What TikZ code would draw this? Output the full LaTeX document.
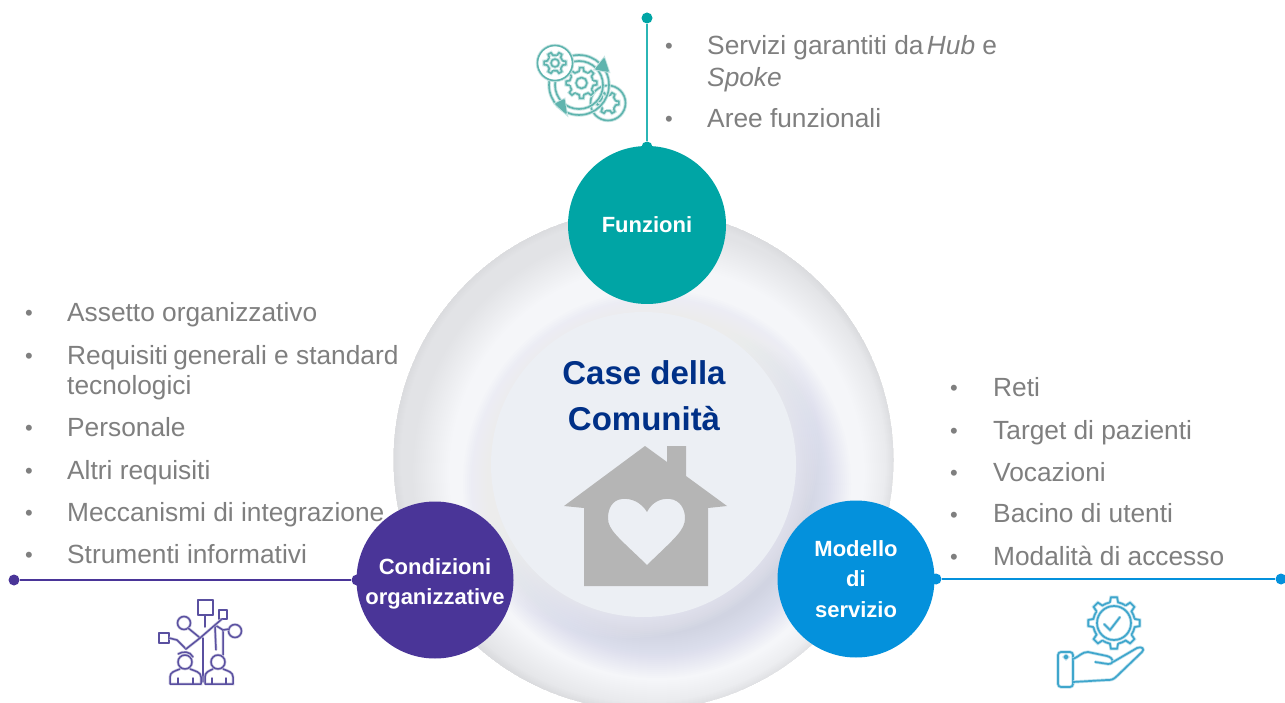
\documentclass[tikz,border=0pt]{standalone}
\usepackage{fontspec}
\setmainfont{Liberation Sans}
\definecolor{teal1}{HTML}{00A5A5}
\definecolor{teal2}{HTML}{2BB5B5}
\definecolor{teali}{HTML}{5FB4AE}
\definecolor{purp1}{HTML}{4A3598}
\definecolor{purpi}{HTML}{5A50A0}
\definecolor{blue1}{HTML}{0491DC}
\definecolor{bluei}{HTML}{3FA6CC}
\definecolor{txtgray}{HTML}{7F7F7F}
\definecolor{navy1}{HTML}{003087}
\definecolor{disc1}{HTML}{ECEFF4}
\definecolor{disc0}{HTML}{F5F6F9}
\definecolor{shad1}{HTML}{A9AECB}
\definecolor{house1}{HTML}{B5B5B5}
\tikzset{
  hub/.style={circle,draw=none,minimum size=#1,inner sep=0pt,align=center,text=white,
    font=\bfseries\fontsize{22}{30.5}\selectfont},
  listitem/.style={anchor=base west,inner sep=0pt,text=txtgray,font=\fontsize{26.3}{30}\selectfont},
  bulletitem/.style={anchor=base,inner sep=0pt,text=txtgray,font=\fontsize{22}{30}\selectfont},
  enddot/.style={circle,draw=none,minimum size=11pt,inner sep=0pt},
  title1/.style={anchor=base,inner sep=0pt,text=navy1,font=\bfseries\fontsize{33}{40}\selectfont},
  tealicon/.style={draw=teali,line width=1.6pt,line cap=round,line join=round,preaction={draw=teali!35,line width=3.4pt}},
  purpicon/.style={draw=purpi,line width=1.5pt,line cap=round,line join=round,preaction={draw=purpi!30,line width=2.8pt}},
  blueicon/.style={draw=bluei,line width=1.7pt,line cap=round,line join=round,preaction={draw=bluei!35,line width=3.2pt}}
}
% centre x, centre y, outer r, inner r, teeth, style
\newcommand{\gearicon}[6]{%
  \begin{scope}[shift={(#1,#2)}]
  \foreach \i in {1,...,#5}{%
    \pgfmathsetmacro\aa{360/#5*\i}%
    \pgfmathsetmacro\ww{90/#5}%
    \draw[#6] (\aa-\ww:#4) -- (\aa-0.6*\ww:#3) -- (\aa+0.6*\ww:#3) -- (\aa+\ww:#4)
       arc[start angle=\aa+\ww,end angle=\aa+360/#5-\ww,radius=#4];
  }%
  \end{scope}%
}
\begin{document}
\begin{tikzpicture}[x=1pt,y=-1pt]
\useasboundingbox (0,0) rectangle (1285,703);
\fill[white] (0,0) rectangle (1285,703);

% large disc
\begin{scope}
  \clip (0,0) rectangle (1285,703);
  \begin{scope}
    \clip (643.5,460) circle (250);
    \fill[disc0] (643.5,460) circle (250);
    % soft inner rim, heavier at top left
    \foreach \r in {244,242,...,208}{
      \fill[shad1,opacity=.012,even odd rule] (643.5,460) circle (400) (657,473) circle (\r);
    }
    \foreach \r in {249.5,248.5,...,242}{
      \fill[shad1,opacity=.005,even odd rule] (643.5,460) circle (400) (643.5,460) circle (\r);
    }
    % shadow of inner disc, lower right
    \foreach \r in {194,192,...,150}{
      \fill[shad1,opacity=.021] (657,484) circle (\r);
    }
    % white glow at top left of the inner disc
    \foreach \r in {188,186,...,150}{
      \fill[white,opacity=.05] (630,450) circle (\r);
    }
  \end{scope}
  \fill[disc1] (643.5,464.5) circle (152.5);
\end{scope}

% house
\fill[house1,even odd rule]
  (645,446) -- (667,462) -- (667,446) -- (686,446) -- (686,476) -- (727,506) -- (708,508)
  -- (708,586) -- (584,586) -- (584,508) -- (564,506) -- cycle
  (647,512) .. controls (641,502) and (631,498) .. (622,499)
  .. controls (612,500) and (608,509) .. (608,518)
  .. controls (608,530) and (618,537) .. (647,565)
  .. controls (676,537) and (685,530) .. (685,518)
  .. controls (685,509) and (680,500) .. (670,499)
  .. controls (661,498) and (652,502) .. (647,512) -- cycle;

% title
\node[title1] (t1) at (644,384) {Case della};
\node[title1] (t2) at (644,430) {Comunità};

% hubs
\node[hub=158pt,fill=teal1] (funz) at (647,225) {Funzioni};
\node[hub=157pt,fill=purp1] (cond) at (435,580) {\rule{0pt}{24pt}Condizioni\\[-1pt]organizzative};
\node[hub=157pt,fill=blue1] (mod)  at (856,579) {Modello\\di\\servizio};

% dots and connectors
\node[enddot,fill=teal1] (d1a) at (647,18) {};
\node[enddot,fill=teal1] (d1b) at (647,147) {};
\draw[teal2,line width=1.8pt] (d1a) -- (d1b);
\node[enddot,fill=purp1] (d2a) at (14,580) {};
\node[enddot,fill=purp1] (d2b) at (357,580) {};
\draw[purp1,line width=1.2pt] (d2a) -- (d2b);
\node[enddot,fill=blue1] (d3a) at (936,579) {};
\node[enddot,fill=blue1] (d3b) at (1281,579) {};
\draw[blue1,line width=1.2pt] (d3a) -- (d3b);

% top list
\node[bulletitem] (b11) at (669,54) {•};
\node[listitem] (i11) at (707,55) {Servizi garantiti da\hspace{-1pt}\,\textit{Hub} e};
\node[listitem] (i12) at (707,87) {\textit{Spoke}};
\node[bulletitem] (b12) at (669,127) {•};
\node[listitem] (i13) at (707,128) {Aree funzionali};

% left list
\node[bulletitem] (b21) at (29,320) {•};
\node[listitem] (i21) at (67,321) {Assetto organizzativo};
\node[bulletitem] (b22) at (29,363) {•};
\node[listitem] (i22) at (67,364) {Requisiti\hspace{-2pt} generali e standard};
\node[listitem] (i23) at (67,394) {tecnologici};
\node[bulletitem] (b24) at (29,435) {•};
\node[listitem] (i24) at (67,436) {Personale};
\node[bulletitem] (b25) at (29,478) {•};
\node[listitem] (i25) at (67,479) {Altri requisiti};
\node[bulletitem] (b26) at (29,520) {•};
\node[listitem] (i26) at (67,521) {Meccanismi di integrazione};
\node[bulletitem] (b27) at (29,562) {•};
\node[listitem] (i27) at (67,563) {Strumenti informativi};

% right list
\node[bulletitem] (b31) at (954,395) {•};
\node[listitem] (i31) at (993,396) {Reti};
\node[bulletitem] (b32) at (954,438) {•};
\node[listitem] (i32) at (993,439) {Target di pazienti};
\node[bulletitem] (b33) at (954,480) {•};
\node[listitem] (i33) at (993,481) {Vocazioni};
\node[bulletitem] (b34) at (954,522) {•};
\node[listitem] (i34) at (993,522) {Bacino di utenti};
\node[bulletitem] (b35) at (954,564) {•};
\node[listitem] (i35) at (993,565) {Modalità di accesso};

% teal gears icon
\draw[tealicon] (608,103) circle (17.5);
\gearicon{608}{103}{11}{8}{6}{tealicon}
\draw[tealicon] (579,85) circle (24);
\draw[tealicon] (579,85) circle (30);
\gearicon{581.5}{83}{15.5}{12}{8}{tealicon}
\draw[tealicon] (581.5,83) circle (5.5);
\draw[tealicon,fill=white] (555,63) circle (17.5);
\gearicon{555}{63}{11}{8}{6}{tealicon}
\draw[tealicon] (555,63) circle (4);
\draw[tealicon,fill=teali] (604,59) -- (608,71) -- (596,69) -- cycle;
\draw[tealicon,fill=teali] (564,100) -- (566,113) -- (556,104) -- cycle;

% purple network icon
\draw[purpicon] (198,600) rectangle (213,615);
\draw[purpicon] (219,610) rectangle (227,619);
\draw[purpicon] (159,633) rectangle (169,643);
\draw[purpicon] (184,623) circle (6.5);
\draw[purpicon] (235,631) circle (6.5);
\draw[purpicon] (205,615) -- (205,627);
\draw[purpicon] (169,638) -- (177,640) -- (186,649);
\draw[purpicon] (186,649) -- (200,638) -- (215,625) -- (223,630) -- (223,655);
\draw[purpicon] (188,628) -- (199,637);
\draw[purpicon] (215,625) -- (222,619);
\draw[purpicon] (223,630) -- (229,629);
\draw[purpicon] (203,638) -- (203,682);
\draw[purpicon] (215,627) -- (216,650);
\draw[purpicon] (185,662) circle (7);
\draw[purpicon] (218,662) circle (7);
\draw[purpicon] (178,654) .. controls (183,651) and (190,651) .. (193,657);
\draw[purpicon] (170,684) -- (170,677) .. controls (170,672) and (175,671) .. (180,669)
   (190,669) .. controls (195,671) and (201,672) .. (201,677) -- (201,684) -- (170,684);
\draw[purpicon] (205,684) -- (205,677) .. controls (205,672) and (209,671) .. (213,669)
   (223,669) .. controls (228,671) and (233,672) .. (233,677) -- (233,684) -- (205,684);
\draw[purpicon] (178,684) -- (178,678) (193,684) -- (193,678) (212,684) -- (212,678) (226,684) -- (226,678);

% blue hand icon
\gearicon{1114}{623}{26}{21}{8}{blueicon}
\draw[blueicon] (1114,623) circle (17);
\draw[blueicon] (1104,624) -- (1110,630) -- (1120,617);
\draw[blueicon,rounded corners=3pt] (1058,652) rectangle (1073,687);
\draw[blueicon] (1066,657) circle (1.6);
\draw[blueicon] (1073,659) .. controls (1080,656) and (1082,652) .. (1088,652)
  -- (1107,656) .. controls (1114,658) and (1115,664) .. (1108,664) -- (1095,662);
\draw[blueicon] (1113,662) -- (1137,648) .. controls (1142,646) and (1145,649) .. (1142,652)
  -- (1117,676) .. controls (1113,680) and (1111,680) .. (1107,680) -- (1073,682);
\end{tikzpicture}
\end{document}
